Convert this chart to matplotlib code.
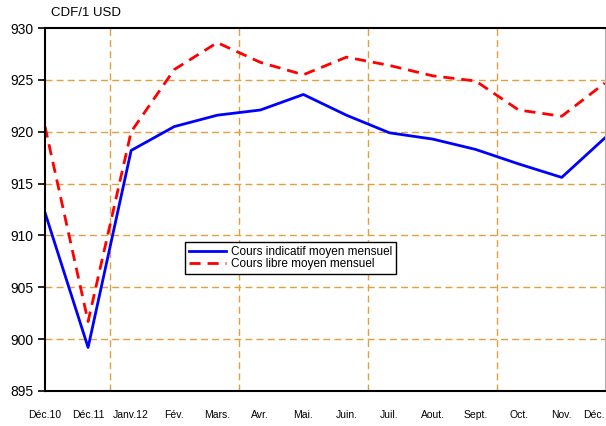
import matplotlib.pyplot as plt

mois = ['Déc.10', 'Déc.11', 'Janv.12', 'Fév.', 'Mars.', 'Avr.', 'Mai.', 'Juin.',
        'Juil.', 'Aout.', 'Sept.', 'Oct.', 'Nov.', 'Déc.']
indicatif = [912.2, 899.2, 918.2, 920.5, 921.6, 922.1, 923.6, 921.6,
             919.9, 919.3, 918.3, 916.9, 915.6, 919.4]
libre = [920.5, 901.7, 920.0, 926.0, 928.6, 926.7, 925.5, 927.2,
         926.4, 925.4, 924.9, 922.1, 921.5, 924.7]

plt.rcParams['font.family'] = ['Liberation Sans', 'DejaVu Sans']

fig = plt.figure(figsize=(6.06, 4.26), dpi=100)
ax = fig.add_axes([0.0743, 0.0822, 0.9237, 0.8518])

x = list(range(len(mois)))
ax.plot(x, indicatif, color='#0000FF', lw=2, label='Cours indicatif moyen mensuel')
ax.plot(x, libre, color='#FF0000', lw=2, ls=(0, (4, 2.5)), label='Cours libre moyen mensuel')

ax.set_xlim(0, 13)
ax.set_ylim(895, 930)
ax.set_yticks(range(895, 931, 5))
ax.set_xticks(x)
ax.set_xticklabels(mois, fontsize=7.5)
ax.get_xticklabels()[-1].set_ha('right')
ax.tick_params(axis='x', length=0, pad=14)
ax.tick_params(axis='y', labelsize=10, length=5, width=1.2, direction='out')

for yv in range(900, 930, 5):
    ax.axhline(yv, color='#E0A040', lw=1, ls=(0, (5, 3)), zorder=0)
for xv in [1.5, 4.5, 7.5, 10.5]:
    ax.axvline(xv, color='#E0A040', lw=1, ls=(0, (5, 3)), zorder=0)

ax.spines['left'].set_linewidth(1.5)
ax.spines['bottom'].set_linewidth(1.5)
ax.spines['top'].set_linewidth(1.5)
ax.spines['right'].set_color('#b0b0b0')

fig.text(0.084, 0.962, 'CDF/1 USD', fontsize=9.5)

leg = ax.legend(loc='upper left', bbox_to_anchor=(0.25, 0.41), fontsize=8.5,
                frameon=True, fancybox=False, edgecolor='black', framealpha=1,
                borderpad=0.3, labelspacing=0.05, handlelength=3.2,
                handletextpad=0.4, borderaxespad=0)
leg.get_frame().set_linewidth(1)

plt.savefig('out.png', dpi=100)
